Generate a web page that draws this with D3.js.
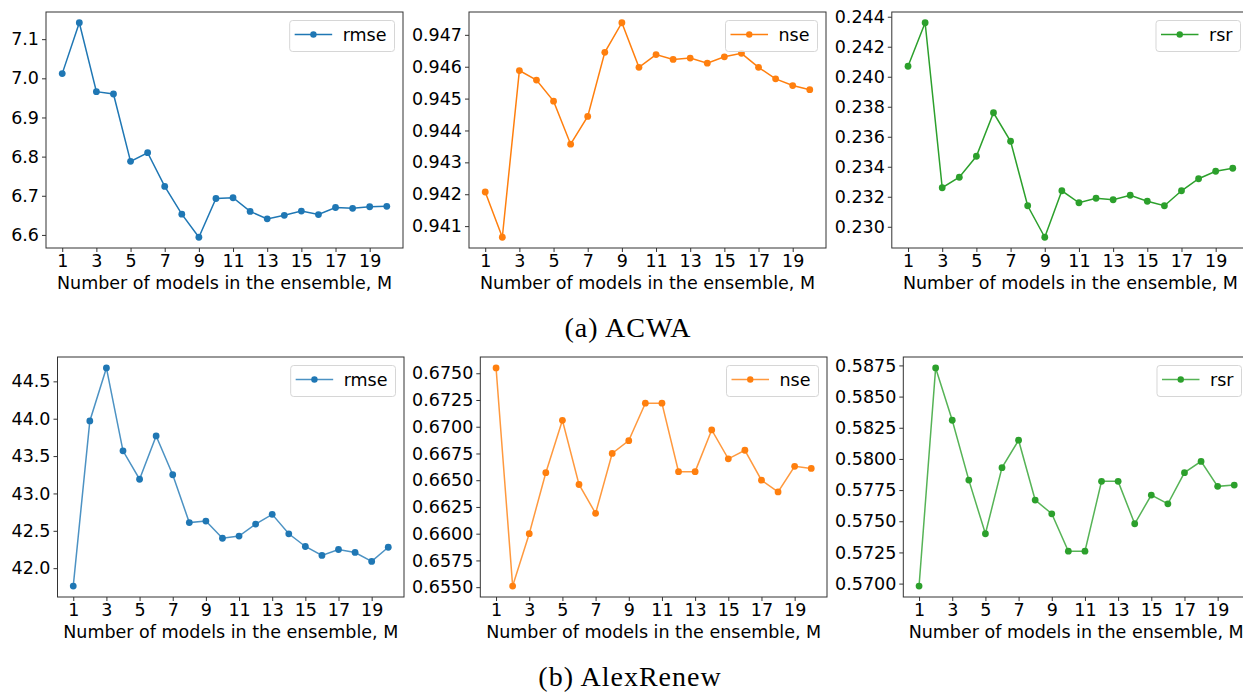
<!DOCTYPE html>
<html>
<head>
<meta charset="utf-8">
<script src="https://cdn.jsdelivr.net/npm/d3@7"></script>
<style>
body { margin: 0; background: #fff; }
svg text { font-family: "DejaVu Sans", sans-serif; fill: #000; }
.caption { font-family: "Liberation Serif", "DejaVu Serif", serif; }
</style>
</head>
<body>
<svg id="fig" width="1243" height="693"></svg>
<script>
// x = number of models in the ensemble
var models = d3.range(1, 21);
var xTicks = [1, 3, 5, 7, 9, 11, 13, 15, 17, 19];
var xLabel = "Number of models in the ensemble, M";

// (a) ACWA
var acwaRmse = [7.012, 7.142, 6.966, 6.960, 6.788, 6.810, 6.724, 6.653, 6.594, 6.693,
                6.695, 6.660, 6.641, 6.650, 6.661, 6.652, 6.670, 6.668, 6.672, 6.673];
var acwaNse  = [0.94207, 0.94065, 0.94588, 0.94558, 0.94492, 0.94357, 0.94444, 0.94645, 0.94738, 0.94598,
                0.94638, 0.94623, 0.94627, 0.94611, 0.94631, 0.94642, 0.94598, 0.94562, 0.94541, 0.94528];
var acwaRsr  = [0.2407, 0.2436, 0.2326, 0.2333, 0.2347, 0.2376, 0.2357, 0.2314, 0.2293, 0.2324,
                0.2316, 0.2319, 0.2318, 0.2321, 0.2317, 0.2314, 0.2324, 0.2332, 0.2337, 0.2339];

// (b) AlexRenew
var alexRmse = [41.76, 43.97, 44.68, 43.57, 43.19, 43.77, 43.25, 42.61, 42.63, 42.40,
                42.43, 42.59, 42.72, 42.46, 42.29, 42.17, 42.25, 42.21, 42.09, 42.28];
var alexNse  = [0.6755, 0.6551, 0.6600, 0.6657, 0.6706, 0.6646, 0.6619, 0.6675, 0.6687, 0.6722,
                0.6722, 0.6658, 0.6658, 0.6697, 0.6670, 0.6678, 0.6650, 0.6639, 0.6663, 0.6661];
var alexRsr  = [0.5698, 0.5873, 0.5831, 0.5783, 0.5740, 0.5793, 0.5815, 0.5767, 0.5756, 0.5726,
                0.5726, 0.5782, 0.5782, 0.5748, 0.5771, 0.5764, 0.5789, 0.5798, 0.5778, 0.5779];

// y tick labels
var acwaRmseTicks = [6.6, 6.7, 6.8, 6.9, 7.0, 7.1];
var acwaNseTicks  = [0.941, 0.942, 0.943, 0.944, 0.945, 0.946, 0.947];
var acwaRsrTicks  = [0.230, 0.232, 0.234, 0.236, 0.238, 0.240, 0.242, 0.244];
var alexRmseTicks = [42.0, 42.5, 43.0, 43.5, 44.0, 44.5];
var alexNseTicks  = [0.6550, 0.6575, 0.6600, 0.6625, 0.6650, 0.6675, 0.6700, 0.6725, 0.6750];
var alexRsrTicks  = [0.5700, 0.5725, 0.5750, 0.5775, 0.5800, 0.5825, 0.5850, 0.5875];

var captions = ["(a) ACWA", "(b) AlexRenew"];

var blue = "#1f77b4", orange = "#ff7f0e", green = "#2ca02c";
var fontSize = 17.5;
var tickLen = 4;

// panel boxes (plot area in pixels)
var panels = [
  { name: "rmse", values: acwaRmse, ticks: acwaRmseTicks, fmt: ".1f", color: blue,   x0: 46,    x1: 403,  y0: 12,  y1: 248, lineAlpha: 1 },
  { name: "nse",  values: acwaNse,  ticks: acwaNseTicks,  fmt: ".3f", color: orange, x0: 469,   x1: 826,  y0: 12,  y1: 248, lineAlpha: 1 },
  { name: "rsr",  values: acwaRsr,  ticks: acwaRsrTicks,  fmt: ".3f", color: green,  x0: 891.8, x1: 1249, y0: 12,  y1: 248, lineAlpha: 1 },
  { name: "rmse", values: alexRmse, ticks: alexRmseTicks, fmt: ".1f", color: blue,   x0: 57.5,  x1: 404,  y0: 357, y1: 597, lineAlpha: 0.8 },
  { name: "nse",  values: alexNse,  ticks: alexNseTicks,  fmt: ".4f", color: orange, x0: 480.3, x1: 827,  y0: 357, y1: 597, lineAlpha: 0.8 },
  { name: "rsr",  values: alexRsr,  ticks: alexRsrTicks,  fmt: ".4f", color: green,  x0: 903.3, x1: 1250, y0: 357, y1: 597, lineAlpha: 0.8 }
];

var svg = d3.select("#fig");

function drawPanel(p) {
  var g = svg.append("g");

  // matplotlib style autoscale: 5% margins on both axes
  var x = d3.scaleLinear()
    .domain([1 - 0.95, 20 + 0.95])
    .range([p.x0, p.x1]);
  var ext = d3.extent(p.values);
  var pad = (ext[1] - ext[0]) * 0.05;
  var y = d3.scaleLinear()
    .domain([ext[0] - pad, ext[1] + pad])
    .range([p.y1, p.y0]);

  // x axis
  var xAxis = g.append("g")
    .attr("transform", "translate(0," + p.y1 + ")")
    .call(d3.axisBottom(x).tickValues(xTicks).tickSize(tickLen).tickPadding(3).tickSizeOuter(0));
  xAxis.select(".domain").remove();
  xAxis.selectAll("line").attr("stroke", "#333");
  xAxis.selectAll("text").attr("font-size", fontSize).attr("font-family", "DejaVu Sans");

  // y axis
  var yAxis = g.append("g")
    .attr("transform", "translate(" + p.x0 + ",0)")
    .call(d3.axisLeft(y).tickValues(p.ticks).tickFormat(d3.format(p.fmt)).tickSize(tickLen).tickPadding(3).tickSizeOuter(0));
  yAxis.select(".domain").remove();
  yAxis.selectAll("line").attr("stroke", "#333");
  yAxis.selectAll("text").attr("font-size", fontSize).attr("font-family", "DejaVu Sans");

  // frame
  g.append("rect")
    .attr("x", p.x0).attr("y", p.y0)
    .attr("width", p.x1 - p.x0).attr("height", p.y1 - p.y0)
    .attr("fill", "none").attr("stroke", "#333").attr("stroke-width", 1);

  // line + markers
  var line = d3.line()
    .x(function(d, i) { return x(models[i]); })
    .y(function(d) { return y(d); });

  g.append("path")
    .datum(p.values)
    .attr("d", line)
    .attr("fill", "none")
    .attr("stroke", p.color)
    .attr("stroke-opacity", p.lineAlpha)
    .attr("stroke-width", 1.5);

  g.selectAll("circle.pt")
    .data(p.values)
    .enter()
    .append("circle")
    .attr("class", "pt")
    .attr("cx", function(d, i) { return x(models[i]); })
    .attr("cy", function(d) { return y(d); })
    .attr("r", 3.4)
    .attr("fill", p.color);

  // x label
  g.append("text")
    .attr("x", (p.x0 + Math.min(p.x1, 1243 + 6)) / 2)
    .attr("y", p.y1 + 41)
    .attr("text-anchor", "middle")
    .attr("font-size", fontSize)
    .text(xLabel);

  // legend
  var lg = g.append("g");
  var box = lg.append("rect");
  var lbl = lg.append("text")
    .attr("font-size", fontSize)
    .text(p.name);
  var tw = lbl.node().getComputedTextLength();
  var bw = 5 + 37.5 + 10.5 + tw + 8;
  var bx = p.x1 - 8.5 - bw;
  var by = p.y0 + 8.5;
  box.attr("x", bx).attr("y", by)
    .attr("width", bw).attr("height", 31)
    .attr("rx", 3)
    .attr("fill", "#fff").attr("fill-opacity", 0.8)
    .attr("stroke", "#d6d6d6");
  lg.append("line")
    .attr("x1", bx + 5).attr("x2", bx + 42.5)
    .attr("y1", by + 14).attr("y2", by + 14)
    .attr("stroke", p.color)
    .attr("stroke-opacity", p.lineAlpha)
    .attr("stroke-width", 1.5);
  lg.append("circle")
    .attr("cx", bx + 23.75).attr("cy", by + 14)
    .attr("r", 3.2)
    .attr("fill", p.color);
  lbl.attr("x", bx + 53).attr("y", by + 14).attr("dy", "0.35em");
}

panels.forEach(drawPanel);

// sub-figure captions
svg.append("text")
  .attr("class", "caption")
  .attr("x", 628).attr("y", 337)
  .attr("text-anchor", "middle")
  .attr("font-size", 28)
  .attr("letter-spacing", 1)
  .text(captions[0]);

svg.append("text")
  .attr("class", "caption")
  .attr("x", 630).attr("y", 686)
  .attr("text-anchor", "middle")
  .attr("font-size", 28)
  .attr("letter-spacing", 1)
  .text(captions[1]);
</script>
</body>
</html>
